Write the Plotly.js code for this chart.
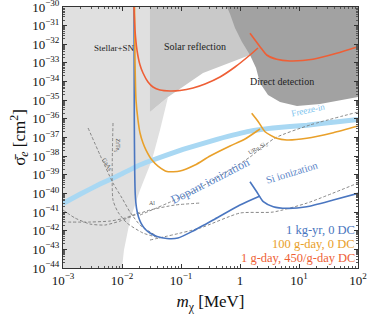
<!DOCTYPE html>
<html><head><meta charset="utf-8">
<script src="https://cdn.plot.ly/plotly-3.0.1.min.js"></script>
<style>body{margin:0;background:#fff}#c{width:374px;height:318px}</style>
</head><body><div id="c"></div>
<script>
// ---- shaded regions (m_chi [MeV], sigma_e [cm^2]) ----
const stellarX = [0.001, 0.0298, 0.0298, 0.0603, 0.0441, 0.0322, 0.0202, 0.01368, 0.01216, 0.0108, 0.01, 0.001];
const stellarY = [1e-30, 1e-30, 2.34e-36, 1.48e-35, 2.51e-37, 6.17e-39, 1.51e-40, 3.72e-42, 5.89e-43, 9.12e-44, 1e-44, 1e-44];
const solarX = [0.0298, 0.0298, 0.0603, 0.236, 1.476, 4.77, 4.77];
const solarY = [1e-30, 2.34e-36, 1.48e-35, 2.88e-34, 2.66e-33, 9.1e-33, 1e-30];
const ddX = [0.602, 0.678, 0.823, 1.081, 1.477, 1.87, 2.18, 2.99, 4.77, 9.25, 22.7, 100, 100];
const ddY = [1e-30, 4.21e-31, 7.46e-32, 1.32e-32, 2.66e-33, 5.37e-34, 8.32e-35, 1.91e-35, 7.94e-36, 4.9e-36, 6.31e-36, 1.48e-35, 1e-30];

// ---- reach curves ----
const redDopX = [0.01596, 0.0166, 0.01795, 0.0202, 0.0227, 0.0276, 0.0335, 0.0441, 0.0652, 0.0962, 0.160, 0.255, 0.458, 0.822, 1.476, 2.018];
const redDopY = [1e-30, 5.83e-32, 4.93e-33, 7.73e-34, 2.88e-34, 9.46e-35, 5.1e-35, 3.52e-35, 3.12e-35, 3.31e-35, 4.51e-35, 7.4e-35, 1.76e-34, 6.04e-34, 2.66e-33, 6.31e-33];
const redSiX = [1.476, 2.183, 2.835, 4.19, 7.03, 17.26, 43.5, 100];
const redSiY = [3.88e-32, 7.41e-33, 2.66e-33, 1.56e-33, 1.27e-33, 1.56e-33, 3.28e-33, 7.41e-33];

const orDopX = [0.01629, 0.0166, 0.01726, 0.01866, 0.0202, 0.0227, 0.02553, 0.0322, 0.0407, 0.0579, 0.0962, 0.1726, 0.3105, 0.678, 1.216, 2.183];
const orDopY = [1e-30, 1.44e-33, 1.03e-35, 8.67e-37, 1.74e-37, 5.06e-38, 2.13e-38, 6.19e-39, 2.95e-39, 1.5e-39, 1.59e-39, 3.34e-39, 1.01e-38, 3.49e-38, 8.28e-38, 2.85e-37];
const orSiX = [1.578, 2.04, 2.655, 4.19, 6.19, 13.52, 38.1, 100];
const orSiY = [1.98e-36, 7.01e-37, 2.04e-37, 9.04e-38, 7.33e-38, 9.04e-38, 1.8e-37, 4.13e-37];

const blDopX = [0.01596, 0.01616, 0.01641, 0.01679, 0.01762, 0.01905, 0.021, 0.02455, 0.0298, 0.0392, 0.0579, 0.0889, 0.160, 0.377, 1.0, 2.183];
const blDopY = [1e-30, 8.67e-37, 1.8e-39, 8.2e-41, 1.65e-41, 5.42e-42, 2.58e-42, 1.23e-42, 7.52e-43, 4.88e-43, 3.81e-43, 4.05e-43, 9.62e-43, 4.24e-42, 2.39e-41, 7.26e-41];
const blSiX = [1.476, 1.92, 2.483, 3.664, 6.19, 13.52, 38.1, 100];
const blSiY = [4.25e-40, 1.23e-40, 3.59e-41, 1.94e-41, 1.59e-41, 1.94e-41, 4.43e-41, 1.01e-40];

const freezeX = [0.001, 0.00194, 0.00424, 0.00925, 0.01795, 0.0298, 0.108, 0.407, 1.476, 3.62, 13.68, 49.5, 100];
const freezeY = [2.9e-41, 9.0e-41, 3.2e-40, 1.0e-39, 2.9e-39, 5.5e-39, 2.3e-38, 8.0e-38, 2.2e-37, 3.2e-37, 4.6e-37, 7.3e-37, 9.4e-37];

// ---- other-material projections (dashed) ----
const zrteX = [0.00704, 0.00704, 0.00855, 0.01216, 0.0227, 0.0441];
const zrteY = [5.98e-37, 4.43e-41, 1.0e-41, 2.58e-42, 7.52e-43, 4.05e-43];
const gaasX = [0.00266, 0.00424, 0.00704, 0.01, 0.01368, 0.0202, 0.0362];
const gaasY = [3.23e-37, 1.15e-38, 3.61e-40, 5.66e-41, 1.0e-41, 2.02e-42, 5.86e-43];
const alX = [0.001, 0.0016, 0.00287, 0.00515, 0.00925, 0.0166, 0.0298, 0.0791, 0.21];
const alY = [1.29e-41, 4.79e-42, 2.28e-42, 2.02e-42, 3.3e-42, 6.93e-42, 1.29e-41, 2.39e-41, 3.05e-41];
const flatX = [0.001, 0.00287, 0.00627, 0.01125, 0.0202];
const flatY = [2.92e-42, 2.92e-42, 3.3e-42, 4.79e-42, 1.0e-41];
const uruX = [0.0202, 0.142, 0.678, 1.476, 3.917, 15.35, 100];
const uruY = [6.93e-42, 1.05e-40, 1.8e-39, 8.97e-39, 9.38e-38, 4.68e-37, 2.33e-36];
const lowX = [0.0298, 0.21, 1, 3.62, 13.68, 100];
const lowY = [3.16e-43, 1.39e-42, 8.87e-42, 1.0e-41, 3.05e-41, 3.61e-40];

const xTickVals = [1e-3, 1e-2, 1e-1, 1, 10, 100];
const xTickText = ['10<sup>−3</sup>', '10<sup>−2</sup>', '10<sup>−1</sup>', '1', '10<sup>1</sup>', '10<sup>2</sup>'];
const yExps = [-30, -31, -32, -33, -34, -35, -36, -37, -38, -39, -40, -41, -42, -43, -44];

const RED = '#ee5f36', ORG = '#e9a02a', BLU = '#4a76c0', FRZ = '#a9d8f3', DASH = '#7a7a7a';
const SERIF = 'Liberation Serif, DejaVu Serif, serif';

function fillTr(x, y, c) { return {x, y, type: 'scatter', mode: 'lines', fill: 'toself', fillcolor: c, line: {width: 0, color: c}, hoverinfo: 'skip'}; }
function lineTr(x, y, c, w, dash, sm) { return {x, y, type: 'scatter', mode: 'lines', line: {color: c, width: w, dash: dash || 'solid', shape: 'spline', smoothing: sm || 0.6}, hoverinfo: 'skip'}; }

const traces = [
  fillTr(stellarX, stellarY, '#e0e0e0'),
  fillTr(solarX, solarY, '#c9c9c9'),
  fillTr(ddX, ddY, '#a2a2a2'),
  lineTr(freezeX, freezeY, FRZ, 5, null, 0.3),
  lineTr(zrteX, zrteY, DASH, 0.9, '3px,2px'),
  lineTr(gaasX, gaasY, DASH, 0.9, '3px,2px'),
  lineTr(alX, alY, DASH, 0.9, '3px,2px'),
  lineTr(flatX, flatY, DASH, 0.9, '3px,2px'),
  lineTr(uruX, uruY, DASH, 0.9, '3px,2px'),
  lineTr(lowX, lowY, DASH, 0.9, '3px,2px'),
  lineTr(blDopX, blDopY, BLU, 1.6),
  lineTr(blSiX, blSiY, BLU, 1.6),
  lineTr(orDopX, orDopY, ORG, 1.6),
  lineTr(orSiX, orSiY, ORG, 1.6),
  lineTr(redDopX, redDopY, RED, 1.6),
  lineTr(redSiX, redSiY, RED, 1.6)
];

function ann(text, px, py, opts) {
  return Object.assign({text, xref: 'paper', yref: 'paper', x: (px - 63) / 295, y: (268 - py) / 261, showarrow: false, borderpad: 0,
    font: {family: SERIF, size: 9, color: '#222'}}, opts || {});
}
const LEG = {xanchor: 'right', yanchor: 'middle'};
const annotations = [
  ann('Stellar+SN', 93, 42),
  ann('Solar reflection', 195, 40, {font: {family: SERIF, size: 10, color: '#222'}}),
  ann('Direct detection', 315, 75, {font: {family: SERIF, size: 10, color: '#222'}}),
  ann('Freeze-in', 327, 110, {textangle: -12, font: {family: SERIF, size: 9, color: '#7cc3ee'}}),
  ann('Dopant ionization', 210, 208, {textangle: -27, font: {family: SERIF, size: 12, color: '#5a85c8'}}),
  ann('Si ionization', 321, 187, {textangle: -17, font: {family: SERIF, size: 10.5, color: '#5a85c8'}}),
  ann('1 kg-yr, 0 DC', 356, 230, Object.assign({font: {family: SERIF, size: 12.5, color: BLU}}, LEG)),
  ann('100 g-day, 0 DC', 356, 244, Object.assign({font: {family: SERIF, size: 12.5, color: ORG}}, LEG)),
  ann('1 g-day, 450/g-day DC', 356, 258, Object.assign({font: {family: SERIF, size: 12.5, color: RED}}, LEG)),
  ann('GaAs', 100, 165, {textangle: 60, font: {family: SERIF, size: 6, color: '#555'}}),
  ann('ZrTe<sub>5</sub>', 113, 145, {textangle: 90, font: {family: SERIF, size: 6, color: '#555'}}),
  ann('Al', 148, 207, {font: {family: SERIF, size: 6, color: '#555'}}),
  ann('URu<sub>2</sub>Si<sub>2</sub>', 258, 149, {textangle: -30, font: {family: SERIF, size: 6, color: '#555'}})
];

const axCommon = {type: 'log', showgrid: false, zeroline: false, showline: true, linecolor: '#333', linewidth: 1, mirror: 'allticks',
  ticks: 'inside', ticklen: 4, tickcolor: '#333', tickfont: {family: SERIF, size: 13, color: '#111'}, ticklabeloverflow: 'allow',
  minor: {ticks: 'inside', ticklen: 2, tickcolor: '#555', dtick: 'D1', showgrid: false}};

const layout = {
  width: 374, height: 318, margin: {l: 63, r: 16, t: 7, b: 50},
  paper_bgcolor: '#fff', plot_bgcolor: '#fff', showlegend: false,
  xaxis: Object.assign({}, axCommon, {range: [-3, 2], tickvals: xTickVals, ticktext: xTickText,
    title: {text: '<i>m</i><sub>χ</sub> [MeV]', font: {family: SERIF, size: 17, color: '#111'}, standoff: 8}}),
  yaxis: Object.assign({}, axCommon, {range: [-44, -30], tickvals: yExps.map(e => Math.pow(10, e)), ticktext: yExps.map(e => '10<sup>−' + (-e) + '</sup>'),
    title: {text: 'σ̄<sub><i>e</i></sub> [cm<sup>2</sup>]', font: {family: SERIF, size: 17, color: '#111'}, standoff: 2}}),
  annotations
};
Plotly.newPlot('c', traces, layout, {staticPlot: true, displayModeBar: false});
</script></body></html>
